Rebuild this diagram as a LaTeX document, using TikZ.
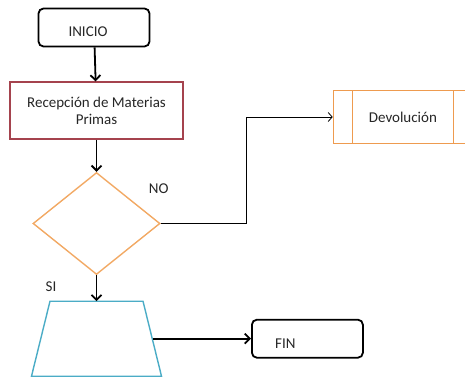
\documentclass[tikz,border=0pt]{standalone}
\usepackage{fontspec}
\setmainfont{Carlito}
\usetikzlibrary{positioning,shapes.geometric,arrows.meta,calc}
\definecolor{recepred}{HTML}{A5434E}
\definecolor{decorange}{HTML}{F2A964}
\definecolor{devolorange}{HTML}{EE9B4F}
\definecolor{trapblue}{HTML}{4BACC6}

\begin{document}
\begin{tikzpicture}[x=1pt, y=-1pt,
    every node/.style={font=\fontsize{15}{17}\selectfont, text=black!85, inner sep=0pt},
    terminal/.style={draw=black, line width=1.8pt, rounded corners=5pt,
        minimum width=111pt, minimum height=38pt},
    process/.style={draw=recepred, line width=1.4pt, align=center,
        minimum width=173pt, minimum height=57pt},
    decision/.style={diamond, draw=decorange, line width=1.4pt,
        minimum width=127pt, minimum height=102pt},
    manual/.style={draw=trapblue, line width=1.4pt, line join=miter},
    predef/.style={draw=devolorange, line width=1.4pt,
        minimum width=139pt, minimum height=53pt,
        path picture={
            \draw[devolorange, line width=1.4pt]
                ([xshift=19pt]path picture bounding box.north west) --
                ([xshift=19pt]path picture bounding box.south west)
                ([xshift=-19pt]path picture bounding box.north east) --
                ([xshift=-19pt]path picture bounding box.south east);
        }},
    flow/.style={-{Straight Barb[length=5pt,width=10pt]}, line width=1.8pt},
    link/.style={-{Straight Barb[length=4pt,width=9pt]}, line width=0.8pt}]
    \useasboundingbox (0,0) rectangle (465,379);
    \clip (0,0) rectangle (465,379);

    % main column
    \node[terminal] (inicio) at (94,27.5) {};
    \node (iniciotext) at ([shift={(-6,4)}]inicio.center) {INICIO};
    \node[process, below=34pt of inicio, xshift=2.5pt] (recep)
        {Recepción de Materias\\Primas};
    \node[decision, below=32pt of recep] (dec) {};

    % trapezium drawn by hand
    \coordinate[below=26pt of dec] (traptop);
    \coordinate (trapright) at ([shift={(56.5pt,-37.5pt)}]traptop);
    \draw[manual] ([xshift=-46.5pt]traptop) -- ([xshift=46.5pt]traptop)
        -- ([shift={(65pt,-75pt)}]traptop) -- ([shift={(-65pt,-75pt)}]traptop) -- cycle;

    % side boxes
    \node[predef, above right=106.5pt and 172pt of dec.east, anchor=west] (devol) {Devolución};
    \node[terminal, right=98pt of trapright] (fin) {};
    \node (fintext) at ([shift={(-22,5)}]fin.center) {FIN};

    \node[above=30pt of dec.east, xshift=-2pt] (no) {NO};
    \node[below left=6pt and 40pt of dec.south] (si) {SI};

    \draw[flow] (inicio) -- (recep);
    \draw[flow] (recep) -- (dec);
    \draw[flow] (dec) -- (traptop);
    \draw[flow] (trapright) -- (fin.west);
    \draw[link] (dec.east) -| ($(dec.east)!0.5!(devol.west)$) |- (devol.west);
\end{tikzpicture}
\end{document}
